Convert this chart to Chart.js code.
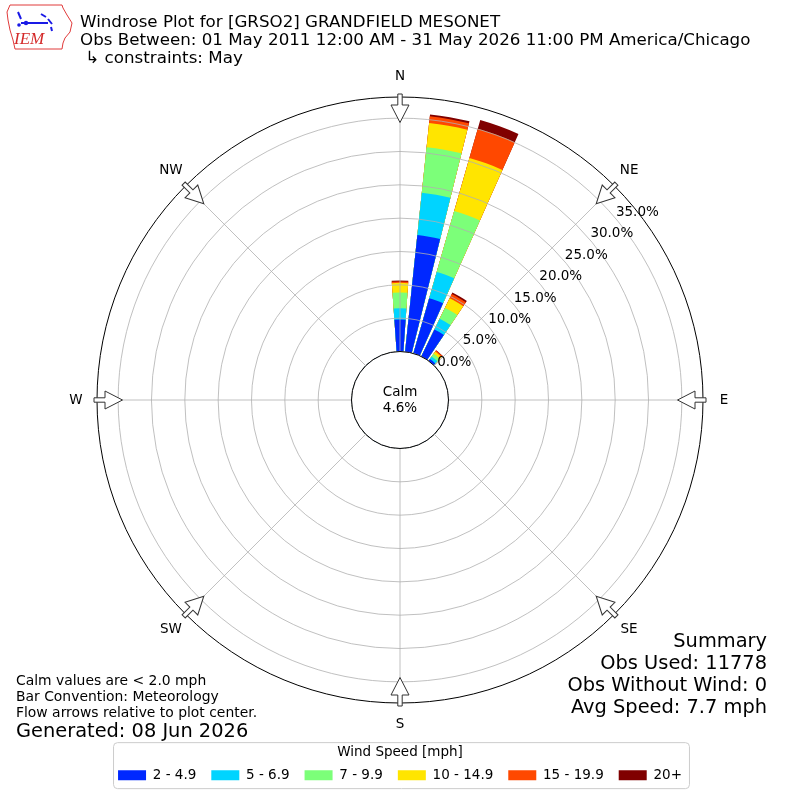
<!DOCTYPE html>
<html>
<head>
<meta charset="utf-8">
<title>Windrose GRSO2</title>
<script src="https://cdn.jsdelivr.net/npm/chart.js@4.4.0/dist/chart.umd.min.js"></script>
<style>
  body { margin: 0; background: #fff; }
  #wrap { width: 800px; height: 800px; }
</style>
</head>
<body>
<div id="wrap"><canvas id="rose" width="800" height="800"></canvas></div>
<script>
// Windrose data (percent of obs), 36 sectors of 10 degrees
const directionsDeg = [0, 10, 20, 30, 40, 50, 60, 70, 80, 90, 100, 110, 120, 130, 140, 150, 160, 170,
                       180, 190, 200, 210, 220, 230, 240, 250, 260, 270, 280, 290, 300, 310, 320, 330, 340, 350];
const speedBins = ['2 - 4.9', '5 - 6.9', '7 - 9.9', '10 - 14.9', '15 - 19.9', '20+'];
const binColors = ['#0028ff', '#00d4ff', '#7cff79', '#ffe500', '#ff4800', '#800000'];

const pct2to5   = [4.8, 17.6, 8.6, 4.5, 0.35, 0, 0, 0, 0, 0, 0, 0, 0, 0, 0, 0, 0, 0, 0, 0, 0, 0, 0, 0, 0, 0, 0, 0, 0, 0, 0, 0, 0, 0, 0, 0];
const pct5to7   = [1.7, 6.4, 4.1, 1.8, 0.45, 0, 0, 0, 0, 0, 0, 0, 0, 0, 0, 0, 0, 0, 0, 0, 0, 0, 0, 0, 0, 0, 0, 0, 0, 0, 0, 0, 0, 0, 0, 0];
const pct7to10  = [2.35, 6.85, 9.5, 1.8, 0.5, 0, 0, 0, 0, 0, 0, 0, 0, 0, 0, 0, 0, 0, 0, 0, 0, 0, 0, 0, 0, 0, 0, 0, 0, 0, 0, 0, 0, 0, 0, 0];
const pct10to15 = [1.45, 3.65, 8.3, 1.6, 0.4, 0, 0, 0, 0, 0, 0, 0, 0, 0, 0, 0, 0, 0, 0, 0, 0, 0, 0, 0, 0, 0, 0, 0, 0, 0, 0, 0, 0, 0, 0, 0];
const pct15to20 = [0.2, 1.0, 4.55, 0.7, 0.2, 0, 0, 0, 0, 0, 0, 0, 0, 0, 0, 0, 0, 0, 0, 0, 0, 0, 0, 0, 0, 0, 0, 0, 0, 0, 0, 0, 0, 0, 0, 0];
const pct20up   = [0.15, 0.3, 1.35, 0.25, 0.05, 0, 0, 0, 0, 0, 0, 0, 0, 0, 0, 0, 0, 0, 0, 0, 0, 0, 0, 0, 0, 0, 0, 0, 0, 0, 0, 0, 0, 0, 0, 0];

const calmPct = 4.6;
const ringTicks = [0, 5, 10, 15, 20, 25, 30, 35];
const compassNames = ['N', 'NE', 'E', 'SE', 'S', 'SW', 'W', 'NW'];

const titleLines = [
  'Windrose Plot for [GRSO2] GRANDFIELD MESONET',
  'Obs Between: 01 May 2011 12:00 AM - 31 May 2026 11:00 PM America/Chicago',
  ' \u21b3 constraints: May'
];
const noteLines = ['Calm values are < 2.0 mph', 'Bar Convention: Meteorology', 'Flow arrows relative to plot center.'];
const generatedText = 'Generated: 08 Jun 2026';
const summaryLines = ['Summary', 'Obs Used: 11778', 'Obs Without Wind: 0', 'Avg Speed: 7.7 mph'];

// radial range: calm circle sits inside 0%, outer ring a bit past 35%
const rMin = -7.27;
const rMax = 38.17;
const barWidth = 8;   // degrees
const gapWidth = 2;

const FONT = 'DejaVu Sans';
Chart.defaults.font.family = FONT;
Chart.defaults.color = '#000';

// polar area has no stacking, so draw cumulative totals on top of each other
const bins = [pct2to5, pct5to7, pct7to10, pct10to15, pct15to20, pct20up];
let running = directionsDeg.map(() => 0);
const datasets = bins.map((vals, k) => {
  running = running.map((s, d) => s + vals[d]);
  const data = [];
  running.forEach(v => { data.push(+v.toFixed(2)); data.push(0); });
  return {
    label: speedBins[k],
    data: data,
    backgroundColor: c => (c.dataIndex % 2 ? 'rgba(0,0,0,0)' : binColors[k]),
    borderWidth: 0,
    angle: c => (c.dataIndex % 2 ? gapWidth : barWidth)
  };
});
const labels = [];
directionsDeg.forEach(d => { labels.push(d + '\u00b0'); labels.push(''); });

function polarPt(scale, deg, r) {
  const a = deg * Math.PI / 180;
  return [scale.xCenter + r * Math.sin(a), scale.yCenter - r * Math.cos(a)];
}

function drawLogo(ctx) {
  ctx.save();
  ctx.strokeStyle = '#e03a3a';
  ctx.lineWidth = 1;
  const outline = [[10, 5], [62, 5], [63, 8], [67, 15], [72, 23], [70, 32], [65, 38], [63, 43], [62, 49],
                   [15, 49], [13, 40], [10, 30], [8, 20], [7, 12]];
  ctx.beginPath();
  outline.forEach((p, i) => (i ? ctx.lineTo(p[0], p[1]) : ctx.moveTo(p[0], p[1])));
  ctx.closePath();
  ctx.stroke();
  ctx.strokeStyle = '#1a1ae6';
  ctx.fillStyle = '#1a1ae6';
  ctx.lineWidth = 2;
  ctx.beginPath();
  ctx.moveTo(21, 23); ctx.lineTo(48, 23);
  ctx.moveTo(18, 12); ctx.lineTo(21, 19);
  ctx.moveTo(41, 14); ctx.lineTo(46, 17);
  ctx.moveTo(48, 19); ctx.lineTo(52, 24);
  ctx.moveTo(51, 27); ctx.lineTo(52, 31);
  ctx.stroke();
  ctx.beginPath(); ctx.arc(19, 25, 1.8, 0, Math.PI * 2); ctx.fill();
  ctx.beginPath(); ctx.arc(26, 23, 2.2, 0, Math.PI * 2); ctx.fill();
  ctx.fillStyle = '#d42a2a';
  ctx.font = 'italic 17px "Liberation Serif"';
  ctx.textAlign = 'left';
  ctx.textBaseline = 'alphabetic';
  ctx.fillText('IEM', 14, 44);
  ctx.restore();
}

const windroseDecor = {
  id: 'windroseDecor',
  afterDatasetsDraw(chart) {
    const s = chart.scales.r;
    const ctx = chart.ctx;
    const r0 = s.getDistanceFromCenterForValue(0);
    ctx.save();
    ctx.strokeStyle = '#b0b0b0';
    ctx.lineWidth = 0.8;
    compassNames.forEach((n, i) => {
      const p1 = polarPt(s, i * 45, r0);
      const p2 = polarPt(s, i * 45, s.drawingArea);
      ctx.beginPath(); ctx.moveTo(p1[0], p1[1]); ctx.lineTo(p2[0], p2[1]); ctx.stroke();
    });
    ctx.restore();
  },
  afterDraw(chart) {
    const s = chart.scales.r;
    const ctx = chart.ctx;
    const R = s.drawingArea;
    const r0 = s.getDistanceFromCenterForValue(0);
    ctx.save();

    // calm circle
    ctx.beginPath();
    ctx.arc(s.xCenter, s.yCenter, r0, 0, Math.PI * 2);
    ctx.fillStyle = '#fff';
    ctx.fill();
    ctx.strokeStyle = '#000';
    ctx.lineWidth = 1;
    ctx.stroke();
    ctx.fillStyle = '#000';
    ctx.font = '13.5px "' + FONT + '"';
    ctx.textAlign = 'center';
    ctx.textBaseline = 'middle';
    ctx.fillText('Calm', s.xCenter, s.yCenter - 8);
    ctx.fillText(calmPct.toFixed(1) + '%', s.xCenter, s.yCenter + 8);

    // ring labels
    ctx.textAlign = 'left';
    ctx.textBaseline = 'alphabetic';
    ringTicks.forEach(v => {
      const p = polarPt(s, 50, s.getDistanceFromCenterForValue(v));
      ctx.fillText(v.toFixed(1) + '%', p[0], p[1] - 3);
    });

    // flow arrows and compass labels
    compassNames.forEach((n, i) => {
      const deg = i * 45;
      ctx.save();
      ctx.translate(s.xCenter, s.yCenter);
      ctx.rotate(deg * Math.PI / 180);
      ctx.beginPath();
      ctx.moveTo(-2.2, -(R + 3));
      ctx.lineTo(2.2, -(R + 3));
      ctx.lineTo(2.2, -(R - 8));
      ctx.lineTo(9, -(R - 8));
      ctx.lineTo(0, -(R - 25.5));
      ctx.lineTo(-9, -(R - 8));
      ctx.lineTo(-2.2, -(R - 8));
      ctx.closePath();
      ctx.fillStyle = '#fff';
      ctx.fill();
      ctx.strokeStyle = '#333';
      ctx.lineWidth = 1;
      ctx.stroke();
      ctx.restore();
      const p = polarPt(s, deg, R + 21);
      ctx.fillStyle = '#000';
      ctx.textAlign = 'center';
      ctx.textBaseline = 'middle';
      ctx.fillText(n, p[0], p[1]);
    });

    // titles
    ctx.textAlign = 'left';
    ctx.textBaseline = 'alphabetic';
    ctx.font = '16.7px "' + FONT + '"';
    titleLines.forEach((t, i) => ctx.fillText(t, 80, 27 + i * 18));

    // notes, bottom left
    ctx.font = '13.9px "' + FONT + '"';
    noteLines.forEach((t, i) => ctx.fillText(t, 16, 685 + i * 16));
    ctx.font = '19.4px "' + FONT + '"';
    ctx.fillText(generatedText, 16, 737);

    // summary, bottom right
    ctx.textAlign = 'right';
    summaryLines.forEach((t, i) => ctx.fillText(t, 767, 647 + i * 22));

    // legend frame
    const lg = chart.legend;
    if (lg && lg.legendHitBoxes && lg.legendHitBoxes.length) {
      const hb = lg.legendHitBoxes;
      const x0 = Math.min(...hb.map(b => b.left)) - 5;
      const x1 = Math.max(...hb.map(b => b.left + b.width)) + 7;
      ctx.beginPath();
      ctx.roundRect(x0 + 0.5, lg.top + 0.5, x1 - x0, 46, 4);
      ctx.strokeStyle = '#cccccc';
      ctx.lineWidth = 1;
      ctx.stroke();
    }

    drawLogo(ctx);
    ctx.restore();
  }
};

new Chart(document.getElementById('rose').getContext('2d'), {
  type: 'polarArea',
  data: { labels: labels, datasets: datasets },
  options: {
    responsive: false,
    animation: false,
    events: [],
    layout: { padding: { top: 58, bottom: 8, left: 97, right: 97 } },
    scales: {
      r: {
        min: rMin,
        max: rMax,
        startAngle: -barWidth / 2,
        afterBuildTicks: sc => { sc.ticks = ringTicks.concat([rMax]).map(v => ({ value: v })); },
        ticks: { display: false },
        angleLines: { display: false },
        pointLabels: { display: false },
        grid: {
          z: 1,
          circular: true,
          color: c => (c.tick && c.tick.value === rMax ? '#000' : '#b0b0b0'),
          lineWidth: c => (c.tick && c.tick.value === rMax ? 1 : 0.8)
        }
      }
    },
    plugins: {
      tooltip: { enabled: false },
      legend: {
        position: 'bottom',
        title: {
          display: true,
          text: 'Wind Speed [mph]',
          font: { size: 13.5, lineHeight: 0.6 },
          padding: { top: 3.25, bottom: 0 }
        },
        labels: {
          boxWidth: 28,
          boxHeight: 10,
          padding: 15,
          font: { size: 13.5 },
          generateLabels: () => speedBins.map((t, i) => ({
            text: t, fillStyle: binColors[i], strokeStyle: binColors[i], lineWidth: 0, hidden: false, datasetIndex: i
          }))
        }
      }
    }
  },
  plugins: [windroseDecor]
});
</script>
</body>
</html>
